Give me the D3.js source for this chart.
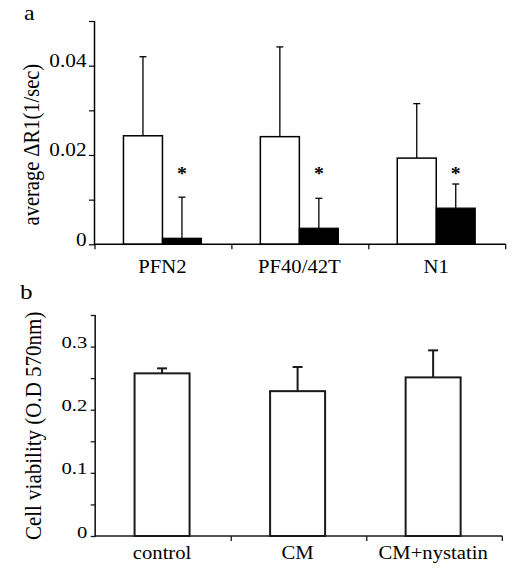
<!DOCTYPE html>
<html>
<head>
<meta charset="utf-8">
<script src="https://cdn.jsdelivr.net/npm/d3@7"></script>
<style>
  html, body { margin: 0; padding: 0; background: #fff; }
  svg { display: block; }
  text { font-family: "Liberation Serif", "Times New Roman", serif; fill: #000; }
</style>
</head>
<body>
<svg id="chart" width="513" height="573"></svg>
<script>
// ---------- Panel a data ----------
const catsA = ["PFN2", "PF40/42T", "N1"];
const openMeanA = [0.0243, 0.0241, 0.0193];
const openErrA = [0.0177, 0.0201, 0.0122];
const filledMeanA = [0.00135, 0.0036, 0.0081];
const filledErrA = [0.0092, 0.0067, 0.0054];
const sigA = ["*", "*", "*"];
const yTicksA = [0, 0.01, 0.02, 0.03, 0.04, 0.05];
const yLabelsA = ["0", "", "0.02", "", "0.04", ""];

// ---------- Panel b data ----------
const catsB = ["control", "CM", "CM+nystatin"];
const meanB = [0.2576, 0.2294, 0.2512];
const errB = [0.0079, 0.0382, 0.0428];
const yTicksB = [0, 0.05, 0.1, 0.15, 0.2, 0.25, 0.3, 0.35];
const yLabelsB = ["0", "", "0.1", "", "0.2", "", "0.3", ""];

const svg = d3.select("#chart");

// ================= Panel a =================
(function () {
  const left = 95, right = 505.7, top = 21, bottom = 244.3;
  const x = d3.scaleBand().domain(catsA).range([left, right]).padding(0);
  const y = d3.scaleLinear().domain([0, 0.05]).range([bottom, top]);
  const g = svg.append("g");
  const bw = 39;
  const color = "#000";

  const rows = catsA.map((c, i) => ({ c, i }));
  g.selectAll("rect.open").data(rows).enter().append("rect")
    .attr("x", d => x(d.c) + x.bandwidth() / 2 - 1 - bw)
    .attr("y", d => y(openMeanA[d.i]))
    .attr("width", bw)
    .attr("height", d => y(0) - y(openMeanA[d.i]))
    .attr("fill", "#fff").attr("stroke", color).attr("stroke-width", 1.5);
  g.selectAll("rect.fill").data(rows).enter().append("rect")
    .attr("x", d => x(d.c) + x.bandwidth() / 2 - 1)
    .attr("y", d => y(filledMeanA[d.i]))
    .attr("width", bw)
    .attr("height", d => y(0) - y(filledMeanA[d.i]))
    .attr("fill", "#000").attr("stroke", color).attr("stroke-width", 1.2);

  function errBars(means, errs, offset) {
    rows.forEach(d => {
      const cx = x(d.c) + x.bandwidth() / 2 - 1 + offset;
      const y0 = y(means[d.i]), y1 = y(means[d.i] + errs[d.i]);
      g.append("line").attr("x1", cx).attr("x2", cx).attr("y1", y0).attr("y2", y1)
        .attr("stroke", color).attr("stroke-width", 1.3);
      g.append("line").attr("x1", cx - 3.5).attr("x2", cx + 3.5).attr("y1", y1).attr("y2", y1)
        .attr("stroke", color).attr("stroke-width", 1.3);
    });
  }
  errBars(openMeanA, openErrA, -bw / 2);
  errBars(filledMeanA, filledErrA, bw / 2);

  g.selectAll("text.sig").data(rows).enter().append("text")
    .attr("transform", d => `translate(${x(d.c) + x.bandwidth() / 2 - 1 + bw / 2},180) scale(1.1,1)`)
    .attr("text-anchor", "middle").attr("font-size", 18).attr("font-weight", "bold")
    .text(d => sigA[d.i]);

  const ya = d3.axisLeft(y).tickValues(yTicksA).tickSize(6).tickFormat((d, i) => yLabelsA[i]);
  const yg = g.append("g").attr("transform", `translate(${left},0)`).call(ya);
  yg.select(".domain").attr("stroke", color).attr("stroke-width", 1.5).attr("d", `M-0.5,${top}V${bottom}`);
  yg.selectAll(".tick line").attr("stroke", color).attr("stroke-width", 1.2);
  yg.selectAll(".tick text").attr("x", null).attr("dy", null).attr("font-size", 18)
    .attr("text-anchor", "end").attr("font-family", "Liberation Serif")
    .attr("transform", "translate(-8.5,0.8) scale(1.18,1)").attr("fill", "#000");

  const xa = d3.axisBottom(x).tickSize(0).tickFormat("");
  const xg = g.append("g").attr("transform", `translate(0,${bottom})`).call(xa);
  xg.select(".domain").attr("stroke", color).attr("stroke-width", 1.5).attr("d", `M${left - 1},0H${right}`);
  xg.selectAll(".tick").remove();
  const bounds = [left].concat(catsA.map(c => x(c) + x.bandwidth()));
  xg.selectAll("line.bt").data(bounds).enter().append("line")
    .attr("x1", d => d).attr("x2", d => d).attr("y1", 0).attr("y2", 5)
    .attr("stroke", color).attr("stroke-width", 1.2);
  g.selectAll("text.xl").data(catsA).enter().append("text")
    .attr("transform", c => `translate(${x(c) + x.bandwidth() / 2 - 1},${bottom + 29}) scale(1.09,1)`)
    .attr("text-anchor", "middle").attr("font-size", 19).text(c => c);

  g.append("text")
    .attr("transform", `translate(38.5,${(top + bottom) / 2 + 12}) scale(1.1,1) rotate(-90)`)
    .attr("text-anchor", "middle").attr("font-size", 20.5).text("average ΔR1(1/sec)");

  g.append("text").attr("transform", "translate(24,20) scale(1.2,1)")
    .attr("font-size", 20).text("a");
})();

// ================= Panel b =================
(function () {
  const left = 95.7, right = 502.3, top = 315, bottom = 536;
  const x = d3.scaleBand().domain(catsB).range([left, right]).padding(0);
  const y = d3.scaleLinear().domain([0, 0.35]).range([bottom, top]);
  const g = svg.append("g");
  const bw = 55;
  const color = "#1a1a1a";
  const rows = catsB.map((c, i) => ({ c, i }));

  g.selectAll("rect.bar").data(rows).enter().append("rect")
    .attr("x", d => x(d.c) + x.bandwidth() / 2 - 1.4 - bw / 2)
    .attr("y", d => y(meanB[d.i]))
    .attr("width", bw)
    .attr("height", d => y(0) - y(meanB[d.i]))
    .attr("fill", "#fff").attr("stroke", color).attr("stroke-width", 2);

  rows.forEach(d => {
    const cx = x(d.c) + x.bandwidth() / 2 - 1.4;
    const y0 = y(meanB[d.i]), y1 = y(meanB[d.i] + errB[d.i]);
    g.append("line").attr("x1", cx).attr("x2", cx).attr("y1", y0).attr("y2", y1)
      .attr("stroke", color).attr("stroke-width", 2);
    g.append("line").attr("x1", cx - 5).attr("x2", cx + 5).attr("y1", y1).attr("y2", y1)
      .attr("stroke", color).attr("stroke-width", 2);
  });

  const ya = d3.axisLeft(y).tickValues(yTicksB).tickSize(5).tickFormat((d, i) => yLabelsB[i]);
  const yg = g.append("g").attr("transform", `translate(${left},0)`).call(ya);
  yg.select(".domain").attr("stroke", color).attr("stroke-width", 1.6).attr("d", `M-0.5,${top}V${bottom}`);
  yg.selectAll(".tick line").attr("stroke", color).attr("stroke-width", 1.3);
  yg.selectAll(".tick text").attr("x", null).attr("dy", null).attr("font-size", 17.5)
    .attr("text-anchor", "end").attr("font-family", "Liberation Serif")
    .attr("transform", "translate(-8.5,1) scale(1.18,1)").attr("fill", "#000");

  const xa = d3.axisBottom(x).tickSize(0).tickFormat("");
  const xg = g.append("g").attr("transform", `translate(0,${bottom})`).call(xa);
  xg.select(".domain").attr("stroke", color).attr("stroke-width", 1.6).attr("d", `M${left - 1},0H${right}`);
  xg.selectAll(".tick").remove();
  const bounds = catsB.map(c => x(c) + x.bandwidth());
  xg.selectAll("line.bt").data(bounds).enter().append("line")
    .attr("x1", d => d).attr("x2", d => d).attr("y1", 0).attr("y2", 5)
    .attr("stroke", color).attr("stroke-width", 1.3);
  g.selectAll("text.xl").data(catsB).enter().append("text")
    .attr("transform", c => `translate(${x(c) + x.bandwidth() / 2 - 1.4},${bottom + 23}) scale(1.06,1)`)
    .attr("text-anchor", "middle").attr("font-size", 19.5).text(c => c);

  g.append("text")
    .attr("transform", `translate(40.5,${(310 + 541.7) / 2}) scale(1.1,1) rotate(-90)`)
    .attr("text-anchor", "middle").attr("font-size", 21).text("Cell viability (O.D 570nm)");

  g.append("text").attr("transform", "translate(20,299) scale(1.2,1)")
    .attr("font-size", 21).text("b");
})();
</script>
</body>
</html>
